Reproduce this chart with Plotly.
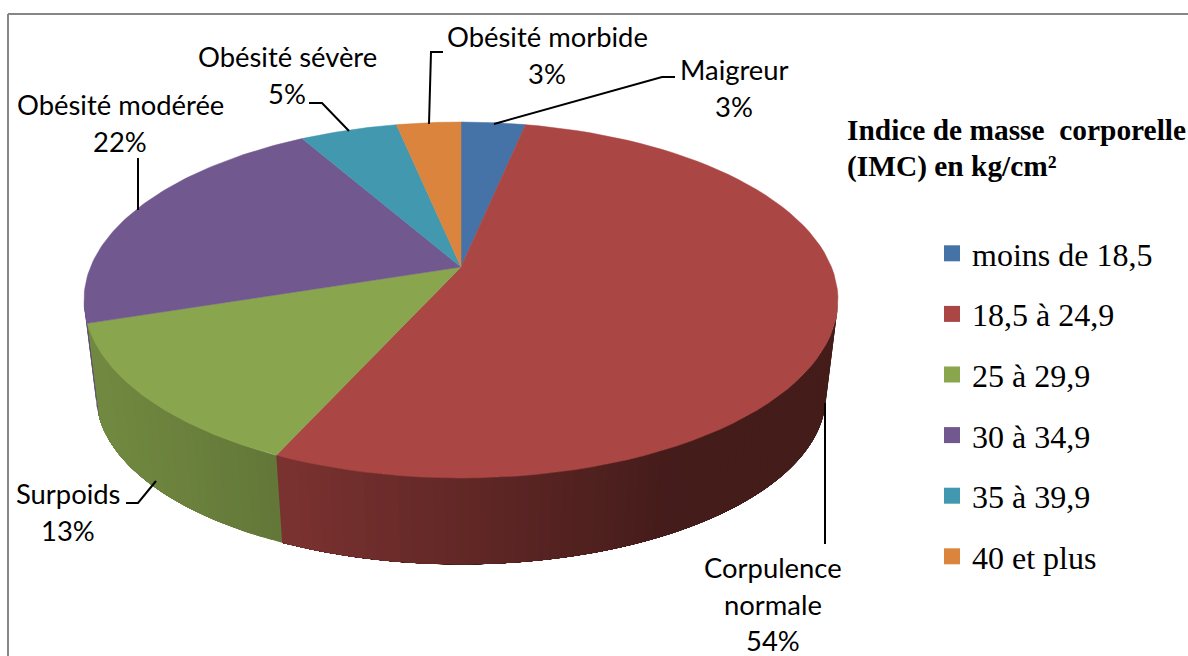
import numpy as np
import plotly.graph_objects as go

categories = ["Maigreur", "Corpulence<br>normale", "Surpoids", "Obésité modérée", "Obésité sévère", "Obésité morbide"]
imc_classes = ["moins de 18,5", "18,5 à 24,9", "25 à 29,9", "30 à 34,9", "35 à 39,9", "40 et plus"]
shares = [3.3, 53.5, 13.2, 21.7, 5.0, 3.3]
colors = ["#4572A7", "#AA4643", "#89A54E", "#71588F", "#4198AF", "#DB843D"]
legend_title = ["Indice de masse\u00a0 corporelle", "(IMC) en kg/cm²"]

# where each data label sits, and its leader line (pixels of the page)
label_pos = [(734, 88), (773, 604), (68, 512), (120, 123), (287, 75), (547, 55)]
leaders = [
    ([675, 662, 494], [77, 77, 124]),
    ([825, 825], [403, 544]),
    ([126, 138, 156], [503, 503, 481]),
    ([138, 138], [158, 210]),
    ([309, 322, 349], [103, 103, 131]),
    ([443, 431, 429], [52, 52, 124]),
]

# perspective of the tilted disc
K = 0.1855
CX = 461
TOP = dict(a=377, b=178, apex=267)
BOTTOM = dict(a=365, b=169, apex=364)
SHADE_X = [100, 285, 680]
SHADE_F = [0.83, 0.72, 0.40]
LABEL_LINE = 36.5


def rim(theta, disc):
    # theta is clockwise from the top of the pie
    d = 1 + K * np.cos(theta)
    x = CX + disc["a"] * np.sqrt(1 - K ** 2) * np.sin(theta) / d
    y = disc["apex"] - disc["b"] * (1 - K ** 2) * np.cos(theta) / d
    return x, y


def shaded(hex_color, x):
    f = np.interp(x, SHADE_X, SHADE_F)
    rgb = [int(hex_color[i:i + 2], 16) * f for i in (1, 3, 5)]
    return "rgb(%d,%d,%d)" % tuple(rgb)


edges = np.concatenate([[0], np.cumsum(shares)]) / sum(shares) * 2 * np.pi
side_from = np.arccos(-K)
side_to = 2 * np.pi - side_from

fig = go.Figure()

# side wall: each strip runs to the end of its slice and the next one paints over it,
# so the gradient has no seams
for i, color in enumerate(colors):
    start, end = max(edges[i], side_from), min(edges[i + 1], side_to)
    if end <= start:
        continue
    steps = np.linspace(start, end, max(2, int((end - start) / np.radians(1.5)) + 1))
    for t0, t1 in zip(steps[:-1], steps[1:]):
        arc = np.linspace(t0, end, 60)
        xt, yt = rim(arc, TOP)
        xb, yb = rim(arc[::-1], BOTTOM)
        x_mid = rim(np.array([(t0 + t1) / 2]), TOP)[0][0]
        fig.add_trace(go.Scatter(
            x=np.concatenate([xt, xb]), y=np.concatenate([yt, yb]),
            mode="lines", fill="toself", fillcolor=shaded(color, x_mid),
            line=dict(width=0),
            showlegend=False, hoverinfo="skip",
        ))

# top face
for i, color in enumerate(colors):
    arc = np.linspace(edges[i], edges[i + 1], 80)
    xs, ys = rim(arc, TOP)
    fig.add_trace(go.Scatter(
        x=np.concatenate([[CX], xs, [CX]]), y=np.concatenate([[TOP["apex"]], ys, [TOP["apex"]]]),
        mode="lines", fill="toself", fillcolor=color,
        line=dict(color=color, width=0.5),
        showlegend=False, text=categories[i], hoverinfo="text",
    ))

# leader lines
for lx, ly in leaders:
    fig.add_trace(go.Scatter(x=lx, y=ly, mode="lines", line=dict(color="black", width=2),
                             showlegend=False, hoverinfo="skip"))

# legend entries
for i, name in enumerate(imc_classes):
    fig.add_trace(go.Scatter(x=[None], y=[None], mode="markers", name=name, legendgroup=name,
                             marker=dict(symbol="square", size=16, color=colors[i])))

# data labels, one annotation per line for the wider line spacing
for i, name in enumerate(categories):
    lines = name.split("<br>") + ["%d%%" % round(shares[i])]
    for j, line in enumerate(lines):
        fig.add_annotation(x=label_pos[i][0], y=label_pos[i][1] + (j - (len(lines) - 1) / 2) * LABEL_LINE,
                           text=line, showarrow=False, font=dict(family="Lato", size=27.4, color="black"))

for j, line in enumerate(legend_title):
    fig.add_annotation(x=845, y=130 + j * 36, xanchor="left", showarrow=False, text="<b>%s</b>" % line,
                       font=dict(family="Liberation Serif", size=29.4, color="black"))

fig.add_shape(type="line", x0=8, x1=1188, y0=14, y1=14, line=dict(color="#868686", width=2), layer="below")
fig.add_shape(type="line", x0=8, x1=8, y0=14, y1=656, line=dict(color="#868686", width=2), layer="below")

fig.update_layout(
    width=1188, height=656,
    margin=dict(l=0, r=0, t=0, b=0),
    paper_bgcolor="white", plot_bgcolor="white",
    xaxis=dict(range=[0, 1188], visible=False, fixedrange=True),
    yaxis=dict(range=[656, 0], visible=False, fixedrange=True),
    legend=dict(x=932 / 1188, y=1 - 226 / 656, xanchor="left", yanchor="top",
                font=dict(family="Liberation Serif", size=32, color="black"),
                tracegroupgap=16, bgcolor="rgba(0,0,0,0)"),
)

fig.write_html("out.html", config=dict(displayModeBar=False),
               post_script="document.body.style.margin='0';")
